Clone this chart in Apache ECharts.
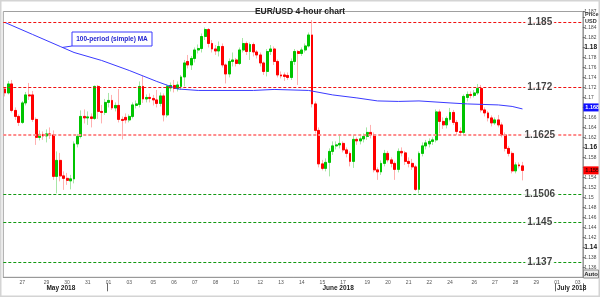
<!DOCTYPE html>
<html><head><meta charset="utf-8">
<script src="https://cdn.jsdelivr.net/npm/echarts@6/dist/echarts.min.js"></script>
<style>html,body{margin:0;padding:0;background:#fff}#c{width:600px;height:297px}</style>
</head><body><div id="c"></div>
<script>
// ---- categories (4-hour candles grouped by trading day) ----
const dayNames = ['25','27','28','29','30','31','01','03','04','05','06','07','08','10','11','12','13','14','15','17','18','19','20','21','22','24','25','26','27','28','29','01','02','03'];
const dayTickLabels = ['','27','','29','30','31','01','03','','05','06','07','08','10','','12','13','14','15','17','','19','20','21','22','24','','26','27','28','29','01','','03'];
const dayCandleCounts = [5,1,6,6,6,6,6,1,6,6,6,6,6,1,6,6,6,6,6,1,6,6,6,6,6,1,6,6,6,6,6,1,5,2];
const monthLabels = ['May 2018','June 2018','July 2018'];
const monthLabelIndex = [12, 92, 160];
const monthStartIndex = [30, 160];

// ---- candles: [open, close, low, high] ----
const candles = [
[1.1717,1.1709,1.1702,1.1720],[1.1709,1.1727,1.1706,1.1733],[1.1727,1.1674,1.1670,1.1735],[1.1674,1.1662,1.1655,1.1680],
[1.1662,1.1650,1.1643,1.1666],[1.1650,1.1689,1.1647,1.1693],[1.1689,1.1705,1.1684,1.1711],[1.1705,1.1703,1.1695,1.1729],
[1.1705,1.1656,1.1651,1.1713],[1.1656,1.1620,1.1605,1.1660],[1.1620,1.1626,1.1614,1.1634],[1.1626,1.1623,1.1615,1.1632],
[1.1623,1.1627,1.1610,1.1636],[1.1627,1.1625,1.1617,1.1640],[1.1625,1.1542,1.1535,1.1634],[1.1542,1.1574,1.1508,1.1592],
[1.1574,1.1543,1.1532,1.1589],[1.1543,1.1538,1.1515,1.1552],[1.1538,1.1534,1.1525,1.1549],[1.1533,1.1537,1.1516,1.1545],
[1.1537,1.1607,1.1528,1.1612],[1.1607,1.1622,1.1600,1.1627],[1.1622,1.1662,1.1618,1.1674],[1.1662,1.1659,1.1648,1.1676],
[1.1659,1.1661,1.1645,1.1672],[1.1661,1.1658,1.1640,1.1668],[1.1658,1.1722,1.1655,1.1724],[1.1722,1.1672,1.1657,1.1725],
[1.1672,1.1670,1.1648,1.1685],[1.1670,1.1690,1.1665,1.1697],[1.1690,1.1694,1.1680,1.1709],[1.1694,1.1679,1.1675,1.1705],
[1.1679,1.1684,1.1672,1.1690],[1.1684,1.1656,1.1650,1.1717],[1.1656,1.1654,1.1616,1.1662],[1.1660,1.1655,1.1648,1.1668],
[1.1655,1.1662,1.1650,1.1666],[1.1662,1.1685,1.1658,1.1690],[1.1684,1.1687,1.1678,1.1694],[1.1686,1.1722,1.1680,1.1732],
[1.1722,1.1697,1.1689,1.1743],[1.1697,1.1700,1.1690,1.1706],[1.1700,1.1698,1.1690,1.1708],[1.1698,1.1695,1.1684,1.1705],
[1.1695,1.1688,1.1680,1.1715],[1.1688,1.1703,1.1682,1.1710],[1.1703,1.1665,1.1652,1.1708],[1.1665,1.1722,1.1660,1.1726],
[1.1719,1.1724,1.1712,1.1730],[1.1724,1.1718,1.1710,1.1735],[1.1718,1.1725,1.1712,1.1732],[1.1722,1.1741,1.1715,1.1745],
[1.1741,1.1769,1.1722,1.1775],[1.1772,1.1765,1.1758,1.1785],[1.1765,1.1778,1.1755,1.1783],[1.1778,1.1795,1.1770,1.1800],
[1.1795,1.1798,1.1788,1.1806],[1.1798,1.1822,1.1790,1.1828],[1.1822,1.1836,1.1815,1.1840],[1.1836,1.1808,1.1800,1.1839],
[1.1808,1.1797,1.1790,1.1815],[1.1797,1.1793,1.1785,1.1805],[1.1793,1.1802,1.1782,1.1812],[1.1802,1.1765,1.1760,1.1808],
[1.1765,1.1747,1.1728,1.1768],[1.1747,1.1772,1.1740,1.1778],[1.1772,1.1775,1.1762,1.1790],[1.1775,1.1768,1.1762,1.1779],
[1.1768,1.1795,1.1765,1.1800],[1.1795,1.1808,1.1790,1.1819],[1.1808,1.1792,1.1785,1.1812],[1.1792,1.1806,1.1775,1.1810],
[1.1806,1.1791,1.1782,1.1810],[1.1791,1.1785,1.1778,1.1795],[1.1785,1.1769,1.1762,1.1790],[1.1769,1.1752,1.1745,1.1772],
[1.1752,1.1792,1.1742,1.1797],[1.1792,1.1797,1.1785,1.1805],[1.1797,1.1772,1.1765,1.1802],[1.1772,1.1745,1.1740,1.1776],
[1.1745,1.1743,1.1738,1.1752],[1.1745,1.1742,1.1733,1.1750],[1.1744,1.1740,1.1735,1.1750],[1.1740,1.1772,1.1735,1.1778],
[1.1772,1.1792,1.1765,1.1797],[1.1792,1.1788,1.1725,1.1795],[1.1788,1.1795,1.1783,1.1800],[1.1795,1.1803,1.1790,1.1808],
[1.1803,1.1825,1.1800,1.1830],[1.1825,1.1687,1.1680,1.1855],[1.1687,1.1634,1.1628,1.1692],[1.1634,1.1567,1.1560,1.1640],
[1.1567,1.1558,1.1554,1.1575],[1.1558,1.1570,1.1552,1.1578],[1.1570,1.1592,1.1542,1.1598],[1.1592,1.1603,1.1585,1.1612],
[1.1603,1.1605,1.1596,1.1612],[1.1605,1.1608,1.1598,1.1625],[1.1608,1.1595,1.1590,1.1612],[1.1595,1.1588,1.1580,1.1600],
[1.1588,1.1572,1.1562,1.1592],[1.1572,1.1616,1.1559,1.1625],[1.1616,1.1613,1.1605,1.1620],[1.1613,1.1617,1.1606,1.1622],
[1.1617,1.1622,1.1610,1.1628],[1.1622,1.1630,1.1615,1.1640],[1.1630,1.1625,1.1618,1.1645],[1.1625,1.1555,1.1550,1.1630],
[1.1555,1.1551,1.1535,1.1560],[1.1551,1.1568,1.1545,1.1574],[1.1568,1.1588,1.1562,1.1595],[1.1588,1.1575,1.1570,1.1593],
[1.1575,1.1568,1.1560,1.1580],[1.1568,1.1556,1.1535,1.1572],[1.1556,1.1592,1.1550,1.1598],[1.1592,1.1589,1.1582,1.1600],
[1.1589,1.1572,1.1565,1.1593],[1.1572,1.1568,1.1560,1.1580],[1.1568,1.1561,1.1555,1.1577],[1.1561,1.1516,1.1513,1.1565],
[1.1516,1.1588,1.1508,1.1592],[1.1588,1.1603,1.1582,1.1610],[1.1603,1.1609,1.1596,1.1615],[1.1607,1.1612,1.1600,1.1618],
[1.1612,1.1615,1.1605,1.1620],[1.1615,1.1671,1.1610,1.1676],[1.1671,1.1652,1.1628,1.1676],[1.1652,1.1645,1.1637,1.1660],
[1.1645,1.1658,1.1638,1.1662],[1.1656,1.1670,1.1652,1.1679],[1.1670,1.1650,1.1645,1.1675],[1.1650,1.1632,1.1625,1.1655],
[1.1632,1.1630,1.1625,1.1640],[1.1630,1.1702,1.1625,1.1706],[1.1700,1.1706,1.1692,1.1712],[1.1706,1.1704,1.1698,1.1712],
[1.1704,1.1709,1.1700,1.1715],[1.1709,1.1718,1.1705,1.1727],[1.1718,1.1675,1.1670,1.1725],[1.1675,1.1669,1.1662,1.1680],
[1.1669,1.1659,1.1652,1.1673],[1.1659,1.1649,1.1642,1.1664],[1.1649,1.1655,1.1645,1.1660],[1.1655,1.1645,1.1640,1.1665],
[1.1645,1.1625,1.1620,1.1650],[1.1625,1.1598,1.1592,1.1630],[1.1598,1.1588,1.1582,1.1603],[1.1588,1.1553,1.1548,1.1592],
[1.1553,1.1565,1.1548,1.1570],[1.1565,1.1563,1.1558,1.1570],[1.1563,1.1554,1.1534,1.1571]
];

// ---- 100-period simple moving average: [candle index, value] ----
const maPoints = [[0,1.1850],[8,1.1826],[16,1.1802],[20,1.1790],[28,1.1774],[36,1.1754],[44,1.1732],[50,1.1717],[56,1.1714],
[72,1.1714],[78,1.1716],[88,1.1714],[95,1.1705],[102,1.1699],[108,1.1693],[114,1.1692],[120,1.1693],[129,1.1689],[134,1.1687],
[143,1.1685],[147,1.1682],[150,1.1677]];

// ---- horizontal levels ----
const levels = [1.185, 1.172, 1.1625, 1.1506, 1.145, 1.137];
const levelText = ['1.185','1.172','1.1625','1.1506','1.145','1.137'];
const levelKind = ['res','res','res2','sup','sup','sup'];
const levelLabelIndex = 155;

const lastPrice = 1.1554, lastPriceText = '1.1554';
const maLast = 1.1680, maLastText = '1.1680';
const hiddenTicks = [1.134, 1.156, 1.168, 1.186];

// ---- build ----
const categories = [], dayStart = {};
dayNames.forEach((d, i) => {
  for (let j = 0; j < dayCandleCounts[i]; j++) {
    if (j === 0) dayStart[categories.length] = dayTickLabels[i];
    categories.push(d + '_' + i + '_' + j);
  }
});
const bodies = candles.map(c => [c[0], c[1], Math.min(c[0], c[1]), Math.max(c[0], c[1])]);

const GREEN = '#00c400', RED = '#ff0000', LGREEN = '#a6e6a6', LRED = '#ffb0b0';
const lineStyles = {
  res: {color: '#f01010', type: [3, 2], width: 1},
  res2: {color: '#ff8c8c', type: [3, 2], width: 2},
  sup: {color: '#119911', type: [3, 2], width: 1}
};
const FONT = 'Liberation Sans';
const hiddenLine = {color: 'rgba(0,0,0,0)', width: 0};

const chart = echarts.init(document.getElementById('c'), null, {renderer: 'canvas'});
chart.setOption({
  animation: false,
  backgroundColor: '#fff',
  title: {text: 'EUR/USD 4-hour chart', left: 'center', top: 2,
    textStyle: {fontSize: 8.5, fontWeight: 'bold', color: '#222', fontFamily: FONT}},
  grid: {left: 3.3, right: 16.6, top: 11.5, bottom: 19.7, show: true, borderColor: '#a0a0a0', borderWidth: 1},
  xAxis: [{
    type: 'category', data: categories, boundaryGap: true,
    axisLine: {lineStyle: {color: '#999'}}, axisTick: {show: false}, splitLine: {show: false},
    axisLabel: {interval: (i) => !!dayStart[i], formatter: (v, i) => dayStart[i] || '',
      fontSize: 5, color: '#555', margin: 3, fontFamily: FONT}
  }, {
    type: 'category', data: categories, boundaryGap: true, position: 'bottom', offset: 6,
    axisLine: {show: false},
    axisTick: {show: true, interval: (i) => monthStartIndex.includes(i), length: 8, lineStyle: {color: '#666'}},
    axisLabel: {interval: (i) => monthLabelIndex.includes(i),
      formatter: (v, i) => { const m = monthLabelIndex.indexOf(i); return m >= 0 ? monthLabels[m] : ''; },
      fontSize: 6.5, fontWeight: 'bold', color: '#222', align: 'left', margin: 1, fontFamily: FONT}
  }],
  yAxis: {
    type: 'value', position: 'right', min: 1.134, max: 1.1872, interval: 0.002, scale: true,
    splitLine: {show: false},
    axisLine: {show: true, lineStyle: {color: '#999'}},
    axisTick: {show: true, length: 2, lineStyle: {color: '#666'}},
    axisLabel: {margin: 1.5, fontFamily: FONT,
      formatter: (v) => {
        const r = Math.round(v * 1000) / 1000;
        if (hiddenTicks.some(h => Math.abs(h - r) < 1e-6)) return '';
        const bold = Math.abs(Math.round(r * 50) - r * 50) < 1e-6;
        return bold ? '{b|' + r + '}' : '{n|' + r + '}';
      },
      rich: {b: {fontSize: 6.5, fontWeight: 'bold', color: '#111', fontFamily: FONT},
             n: {fontSize: 4.8, color: '#444', fontFamily: FONT}}
    }
  },
  series: [{
    type: 'candlestick', name: 'wicks', data: candles, barWidth: 2.4,
    itemStyle: {color: LGREEN, color0: LRED, borderColor: LGREEN, borderColor0: LRED, borderWidth: 1},
    markLine: {
      silent: true, symbol: 'none', animation: false, precision: 5,
      data: levels.map((v, i) => ({yAxis: v, lineStyle: lineStyles[levelKind[i]], label: {show: false}}))
    }
  }, {
    type: 'candlestick', name: 'bodies', data: bodies, barWidth: 2.4,
    itemStyle: {color: GREEN, color0: RED, borderColor: GREEN, borderColor0: RED, borderWidth: 1, borderColorDoji: GREEN}
  }, {
    type: 'line', name: '100-period (simple) MA', data: maPoints, showSymbol: false, symbol: 'none',
    lineStyle: {color: '#3a3aff', width: 1}, z: 4,
    markLine: {
      silent: true, symbol: 'none', animation: false, precision: 5,
      lineStyle: hiddenLine,
      data: [
        {yAxis: lastPrice, lineStyle: hiddenLine, label: {show: true, position: 'end', distance: 0.5,
          formatter: lastPriceText, backgroundColor: '#ff0000', color: '#300', fontSize: 5.5, fontWeight: 'bold',
          padding: [1, 2, 1, 2], fontFamily: FONT, opacity: 1}},
        {yAxis: maLast, lineStyle: hiddenLine, label: {show: true, position: 'end', distance: 0.5,
          formatter: maLastText, backgroundColor: '#1010ff', color: '#fff', fontSize: 5.5, fontWeight: 'bold',
          padding: [1, 2, 1, 2], fontFamily: FONT, opacity: 1}}
      ]
    }
  }, {
    type: 'scatter', data: levels.map(v => [levelLabelIndex, v]), symbolSize: 0, z: 6, silent: true,
    label: {show: true, position: 'inside', formatter: (p) => levelText[p.dataIndex],
      fontSize: 10, fontWeight: 'bold', color: '#111', backgroundColor: '#fff', padding: [0, 2], fontFamily: FONT}
  }],
  graphic: [
    {type: 'rect', shape: {x: 0.5, y: 0.5, width: 599, height: 296}, style: {fill: 'none', stroke: '#d4d4d4', lineWidth: 2}, z: 100},
    {type: 'text', x: 585, y: 11, style: {text: 'Price', fontSize: 5.5, fontWeight: 'bold', fill: '#333', fontFamily: FONT}, z: 100},
    {type: 'text', x: 585, y: 18, style: {text: 'USD', fontSize: 5.5, fontWeight: 'bold', fill: '#333', fontFamily: FONT}, z: 100},
    {type: 'rect', shape: {x: 583.5, y: 270, width: 15, height: 8}, style: {fill: '#eee', stroke: '#888', lineWidth: 1}, z: 100},
    {type: 'text', x: 591, y: 274, style: {text: 'Auto', fontSize: 6, fontWeight: 'bold', fill: '#222', align: 'center', verticalAlign: 'middle', fontFamily: FONT}, z: 101},
    {type: 'line', shape: {x1: 62, y1: 47.5, x2: 72, y2: 46}, style: {stroke: '#3a3aff', lineWidth: 1}, z: 100},
    {type: 'rect', shape: {x: 72, y: 32, width: 80, height: 14}, style: {fill: '#fff', stroke: '#3a3aff', lineWidth: 1}, z: 100},
    {type: 'text', x: 112, y: 39, style: {text: '100-period (simple) MA', fontSize: 6.5, fontWeight: 'bold', fill: '#2525d0', align: 'center', verticalAlign: 'middle', fontFamily: FONT}, z: 101}
  ]
});
</script></body></html>
